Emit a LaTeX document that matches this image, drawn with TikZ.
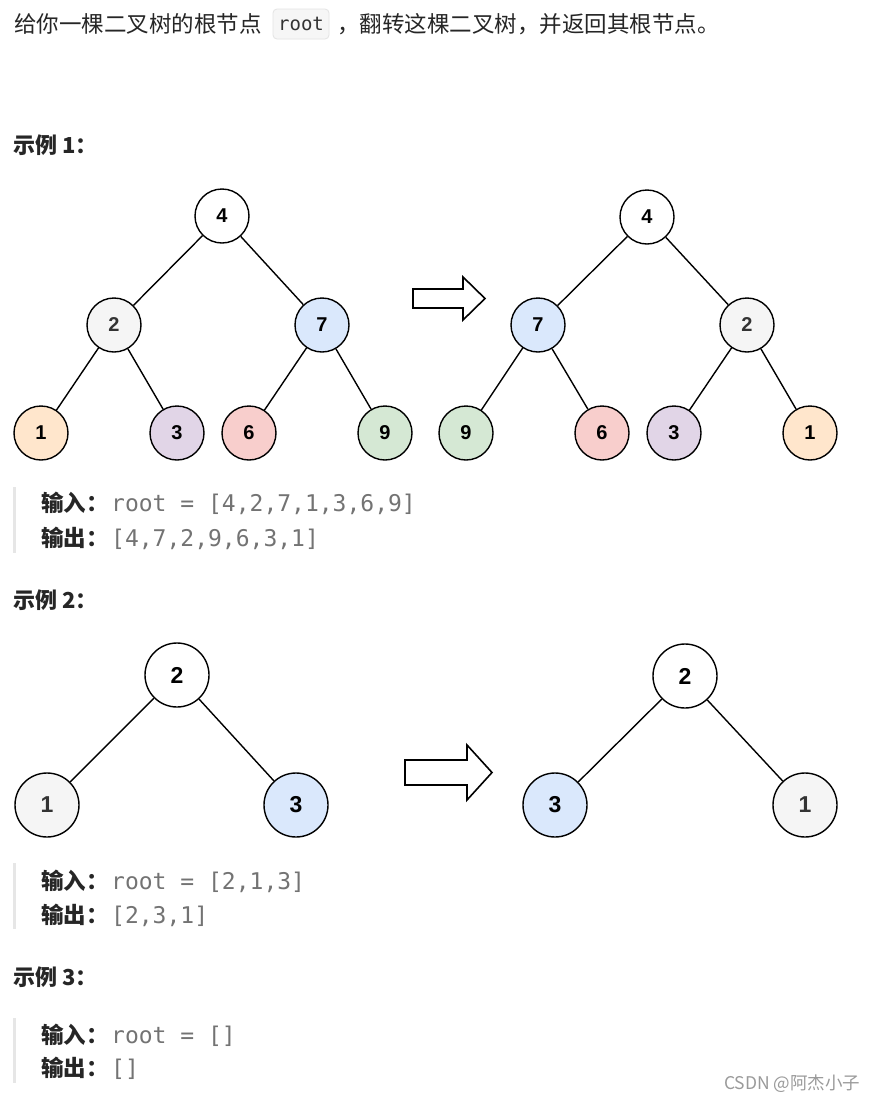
\documentclass[tikz,border=0pt]{standalone}
\usepackage{fontspec}
\setmainfont{Noto Sans CJK SC}
\newfontfamily\monofam{DejaVu Sans Mono}
\newfontfamily\arialfam{Liberation Sans}
\definecolor{txtc}{HTML}{262626}
\definecolor{codec}{HTML}{737373}
\definecolor{barc}{HTML}{E6E6E6}
\definecolor{boxfill}{HTML}{F6F6F6}
\definecolor{boxline}{HTML}{E3E3E3}
\definecolor{cgrey}{HTML}{F5F5F5}
\definecolor{cblue}{HTML}{DAE8FC}
\definecolor{corange}{HTML}{FFE6CC}
\definecolor{cpurple}{HTML}{E1D5E7}
\definecolor{cred}{HTML}{F8CECC}
\definecolor{cgreen}{HTML}{D5E8D4}
\definecolor{numgrey}{HTML}{333333}
\definecolor{wmc}{HTML}{9A9A9A}
\begin{document}
\begin{tikzpicture}[x=1pt,y=-1pt,
  txt/.style={anchor=base west, inner sep=0, text=txtc, font=\fontsize{22.5}{27}\selectfont},
  ttl/.style={anchor=base west, inner sep=0, text=txtc, font=\fontsize{22}{26}\selectfont\bfseries},
  lbl/.style={anchor=base west, inner sep=0, text=txtc, font=\fontsize{22.5}{27}\selectfont\bfseries},
  codetxt/.style={anchor=base west, inner sep=0, text=codec, font=\fontsize{23}{27}\monofam},
  bar/.style={fill=barc, draw=none},
  tA/.style={circle, draw=black, line width=1.4pt, minimum size=54pt, inner sep=0, font=\fontsize{20}{20}\arialfam\bfseries},
  tB/.style={circle, draw=black, line width=1.4pt, minimum size=64pt, inner sep=0, font=\fontsize{23}{23}\arialfam\bfseries},
  edge/.style={draw=black, line width=1.4pt},
  bigarrow/.style={draw=black, fill=white, line width=1.6pt, line join=miter}
]
\useasboundingbox[fill=white] (0,0) rectangle (877,1101);

% top text
\node[txt] (t1) at (14,32.5) {给你一棵二叉树的根节点};
\node[draw=boxline, fill=boxfill, rounded corners=4pt, line width=0.8pt, minimum width=56pt, minimum height=30pt, inner sep=0, text=numgrey, font=\fontsize{19}{20}\monofam] (rootbox) at (301,24) {root};
\node[txt] (t2) at (337,32.5) {，翻转这棵二叉树，并返回其根节点。};

% Example 1
\node[ttl] (ex1) at (13,153) {示例 1：};

\node[tA] (a4) at (222,216) {4};
\node[tA, fill=cgrey, text=numgrey] (a2) at (114,325) {2};
\node[tA, fill=cblue] (a7) at (322,325) {7};
\node[tA, fill=corange] (a1) at (41,433) {1};
\node[tA, fill=cpurple] (a3) at (177,433) {3};
\node[tA, fill=cred] (a6) at (249,433) {6};
\node[tA, fill=cgreen] (a9) at (385,433) {9};
\draw[edge] (a4) -- (a2);
\draw[edge] (a4) -- (a7);
\draw[edge] (a2) -- (a1);
\draw[edge] (a2) -- (a3);
\draw[edge] (a7) -- (a6);
\draw[edge] (a7) -- (a9);

\draw[bigarrow] (413,289) -- (463,289) -- (463,277) -- (485,298.5) -- (463,320) -- (463,308) -- (413,308) -- cycle;

\node[tA] (b4) at (647,217) {4};
\node[tA, fill=cblue] (b7) at (538,325) {7};
\node[tA, fill=cgrey, text=numgrey] (b2) at (747,325) {2};
\node[tA, fill=cgreen] (b9) at (466,433) {9};
\node[tA, fill=cred] (b6) at (602,433) {6};
\node[tA, fill=cpurple] (b3) at (674,433) {3};
\node[tA, fill=corange] (b1) at (810,433) {1};
\draw[edge] (b4) -- (b7);
\draw[edge] (b4) -- (b2);
\draw[edge] (b7) -- (b9);
\draw[edge] (b7) -- (b6);
\draw[edge] (b2) -- (b3);
\draw[edge] (b2) -- (b1);

\fill[bar] (13,487) rectangle (16,553);
\node[lbl] (in1) at (41,511.5) {输入：};
\node[codetxt] (inc1) at (111,511.5) {root = [4,2,7,1,3,6,9]};
\node[lbl] (out1) at (41,546) {输出：};
\node[codetxt] (outc1) at (111,546) {[4,7,2,9,6,3,1]};

% Example 2
\node[ttl] (ex2) at (13,608) {示例 2：};

\node[tB] (c2) at (177,675) {2};
\node[tB, fill=cgrey, text=numgrey] (c1) at (47,805) {1};
\node[tB, fill=cblue] (c3) at (296,805) {3};
\draw[edge] (c2) -- (c1);
\draw[edge] (c2) -- (c3);

\draw[bigarrow] (405,760) -- (467,760) -- (467,745) -- (492,772.5) -- (467,800) -- (467,785) -- (405,785) -- cycle;

\node[tB] (d2) at (685,676) {2};
\node[tB, fill=cblue] (d3) at (555,805) {3};
\node[tB, fill=cgrey, text=numgrey] (d1) at (805,805) {1};
\draw[edge] (d2) -- (d3);
\draw[edge] (d2) -- (d1);

\fill[bar] (13,863) rectangle (16,929);
\node[lbl] (in2) at (41,889) {输入：};
\node[codetxt] (inc2) at (111,889) {root = [2,1,3]};
\node[lbl] (out2) at (41,923) {输出：};
\node[codetxt] (outc2) at (111,923) {[2,3,1]};

% Example 3
\node[ttl] (ex3) at (13,985) {示例 3：};
\fill[bar] (13,1018) rectangle (16,1083);
\node[lbl] (in3) at (41,1043) {输入：};
\node[codetxt] (inc3) at (111,1043) {root = []};
\node[lbl] (out3) at (41,1076) {输出：};
\node[codetxt] (outc3) at (111,1076) {[]};

% watermark
\node[anchor=base west, inner sep=0, text=wmc, font=\fontsize{17.5}{19}\selectfont] (wm) at (724,1089) {CSDN @阿杰小子};
\end{tikzpicture}
\end{document}
